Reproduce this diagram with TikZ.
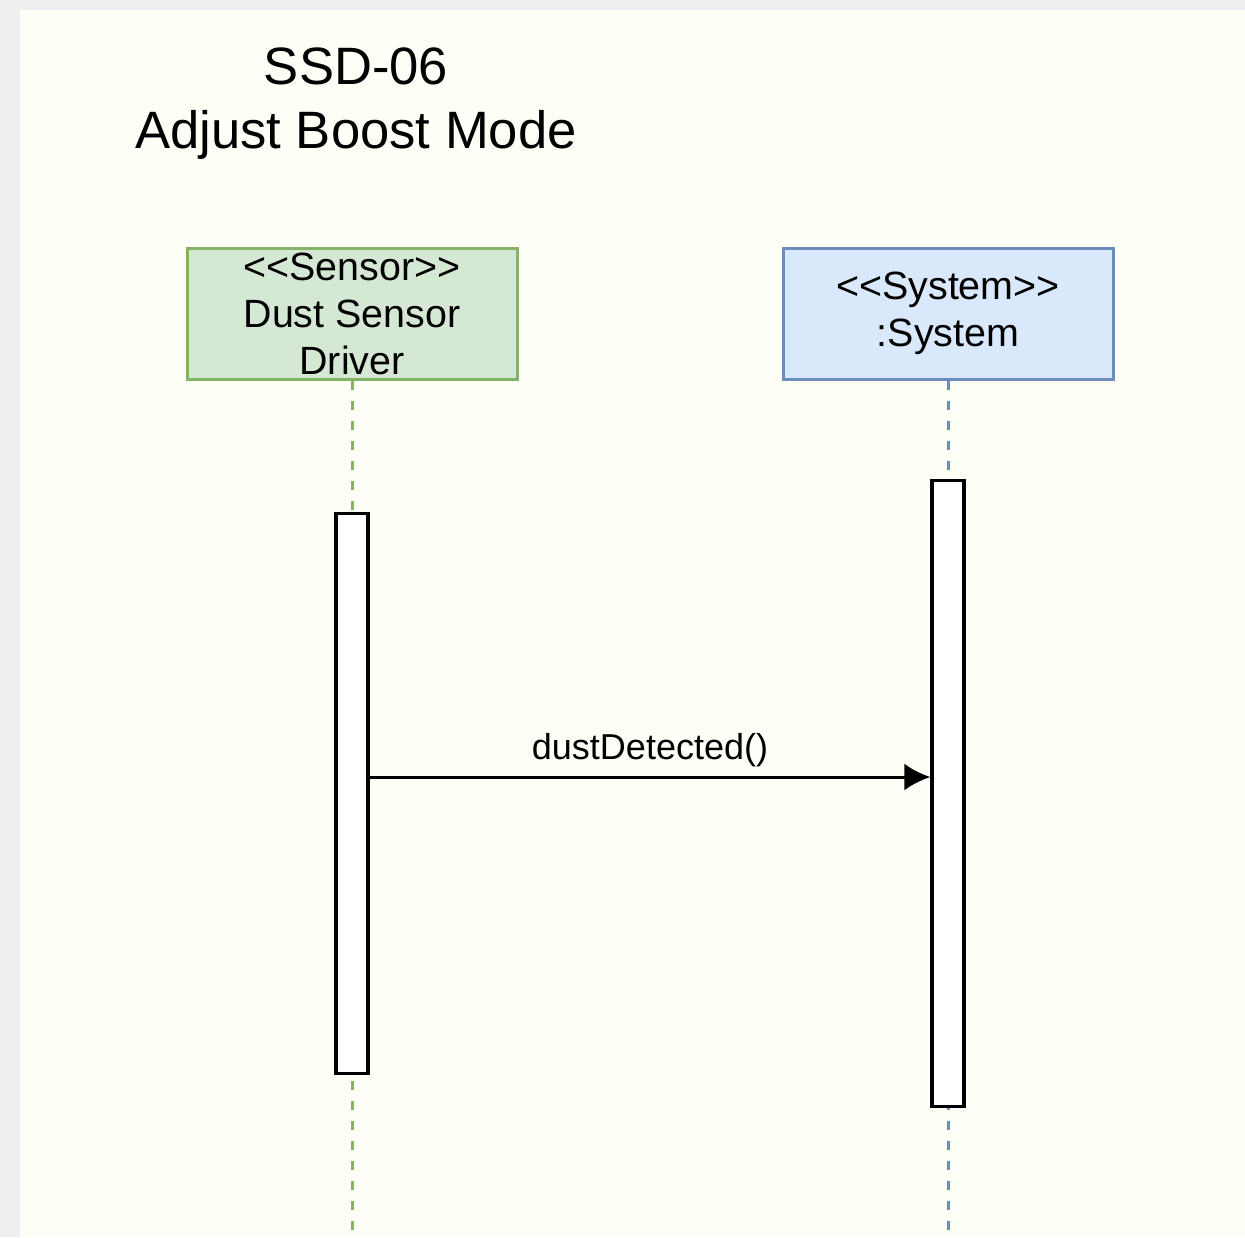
\documentclass[tikz,border=0pt]{standalone}
\usepackage{fontspec}
\setmainfont{Liberation Sans}
\usetikzlibrary{arrows.meta}
\definecolor{PageGray}{HTML}{EEEEEE}
\definecolor{PaperWhite}{HTML}{FDFEF6}
\definecolor{SensorFill}{HTML}{D5E8D4}
\definecolor{SensorLine}{HTML}{82B366}
\definecolor{SystemFill}{HTML}{DAE8FC}
\definecolor{SystemLine}{HTML}{6C8EBF}
\tikzstyle{TitleNode}=[align=center, inner sep=0pt, font=\fontsize{26.3}{32}\selectfont]
\tikzstyle{ActorNode}=[rectangle, line width=1.5pt, minimum width=165pt, minimum height=65.5pt, inner sep=0pt, align=center, font=\fontsize{19.7}{23.5}\selectfont]
\tikzstyle{SensorNode}=[ActorNode, draw=SensorLine, fill=SensorFill]
\tikzstyle{SystemNode}=[ActorNode, draw=SystemLine, fill=SystemFill]
\tikzstyle{ActNode}=[rectangle, draw=black, fill=white, line width=1.7pt, minimum width=16pt, inner sep=0pt]
\tikzstyle{LifeLine}=[line width=1.5pt, dash pattern=on 4.5pt off 5.5pt]
\tikzstyle{MsgEdge}=[->, line width=1.5pt]
\tikzstyle{MsgLabel}=[above=4.5pt, inner sep=0pt, font=\fontsize{18}{22}\selectfont]
\tikzset{>={Latex[length=13pt,width=13.5pt]}}

\begin{document}
\begin{tikzpicture}[x=0.5pt, y=-0.5pt]
\useasboundingbox (0,0) rectangle (1245,1237);
\fill[PageGray] (0,0) rectangle (1245,1237);
\fill[PaperWhite] (20,10) rectangle (1245,1237);

\node[TitleNode](TITLE) at (356,104) {SSD-06\\Adjust Boost Mode};

\node[SensorNode](DRV) at (352,313.5) {{<}{<}Sensor{>}{>}\\Dust Sensor\\Driver};
\node[SystemNode](SYS) at (948,313.5) {{<}{<}System{>}{>}\\:System};

\coordinate (DRVEND) at (352,1237);
\coordinate (SYSEND) at (948,1237);
\draw[LifeLine, SensorLine](DRV.south) -- (DRVEND);
\draw[LifeLine, SystemLine](SYS.south) -- (SYSEND);

\node[ActNode, minimum height=280pt](DRVACT) at (352,793.5) {};
\node[ActNode, minimum height=313pt](SYSACT) at (948,793.5) {};

\coordinate (MSGY) at (0,777);
\draw[MsgEdge](DRVACT.east |- MSGY) -- node[MsgLabel]{dustDetected()} (SYSACT.west |- MSGY);
\end{tikzpicture}
\end{document}
